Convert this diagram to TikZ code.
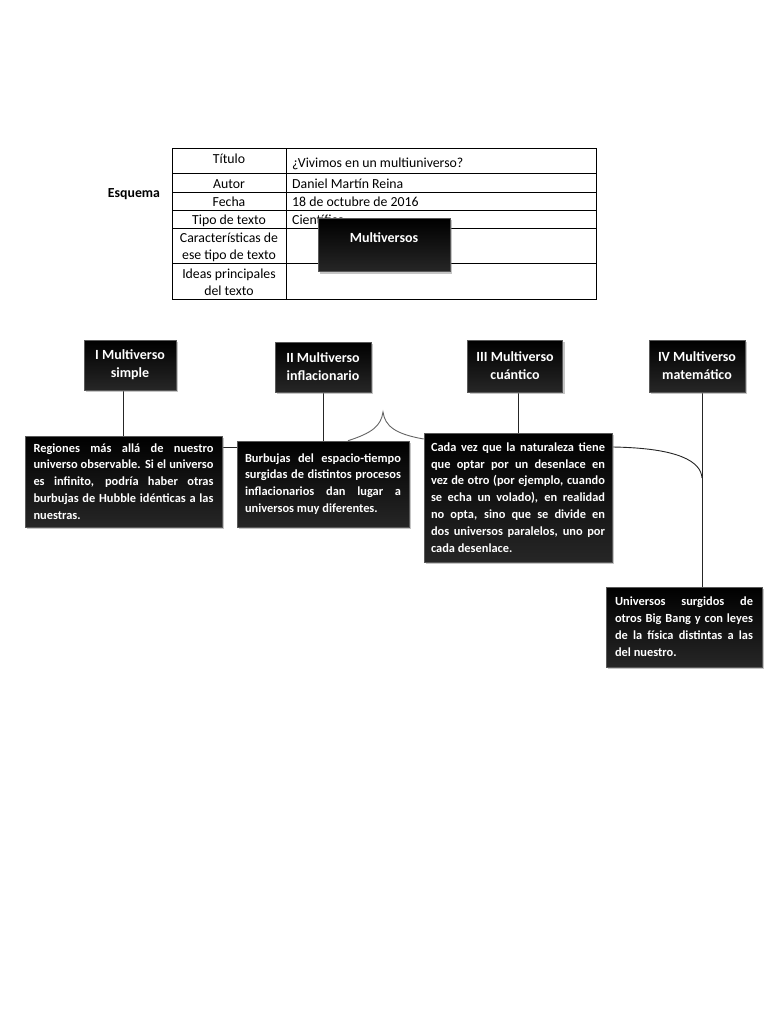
\documentclass[tikz,border=0pt]{standalone}
\usepackage{fontspec}
\setmainfont{Carlito}
\usetikzlibrary{shadows,calc,backgrounds}
\begin{document}
\begin{tikzpicture}[x=1pt,y=-1pt,
  boxbase/.style={text=white, inner sep=0pt, top color=black, bottom color=black!85,
    draw=black!65, line width=0.6pt,
    drop shadow={opacity=0.45, shadow xshift=2pt, shadow yshift=-2pt}},
  hdr/.style={boxbase, font=\bfseries\fontsize{14}{18}\selectfont, align=center,
    minimum width=94pt, minimum height=51pt},
  desc/.style={boxbase, font=\bfseries\fontsize{12.4}{16.9}\selectfont, align=justify},
  cell/.style={font=\fontsize{13.8}{17}\selectfont, inner sep=0pt, anchor=base},
  cellc/.style={font=\fontsize{13.8}{17}\selectfont, inner sep=0pt, align=center},
  tline/.style={draw=black, line width=1pt},
  conn/.style={draw=black!85, line width=0.9pt},
  brace/.style={draw=black!60, line width=0.9pt}
]
\begin{scope}[on background layer]
  \fill[white] (0,0) rectangle (768,1024);
\end{scope}
\useasboundingbox (0,0) rectangle (768,1024);

% table
\draw[tline] (172,149) rectangle (596,299);
\draw[tline] (286,149) -- (286,299);
\foreach \yy in {174,193,211,229,263} \draw[tline] (172,\yy) -- (596,\yy);

\node[font=\bfseries\fontsize{13.8}{17}\selectfont, inner sep=0pt, anchor=base] (esq) at (134,198) {Esquema};
\node[cell] (t1l) at (229,164) {Título};
\node[cell, anchor=base west] (t1r) at (292,168) {¿Vivimos en un multiuniverso?};
\node[cell] (t2l) at (229,189) {Autor};
\node[cell, anchor=base west] (t2r) at (292,189) {Daniel Martín Reina};
\node[cell] (t3l) at (229,207) {Fecha};
\node[cell, anchor=base west] (t3r) at (292,207) {18 de octubre de 2016};
\node[cell] (t4l) at (229,225) {Tipo de texto};
\node[cell, anchor=base west] (t4r) at (292,225) {Científico};
\node[cellc] (t5l) at (229,247) {Características de\\ese tipo de texto};
\node[cellc] (t6l) at (229,282) {Ideas principales\\del texto};

% central box
\node[boxbase, font=\bfseries\fontsize{14}{18}\selectfont, minimum width=132pt, minimum height=53pt,
  text height=10pt, text depth=14pt] (mv) at (384,245) {Multiversos};

% header boxes
\node[hdr, minimum width=92pt, minimum height=50pt] (b1) at (130,365) {I Multiverso\\simple};
\node[hdr, minimum width=96pt, minimum height=50pt] (b2) at (323,367) {II Multiverso\\inflacionario};
\node[hdr, minimum width=95pt, minimum height=52pt] (b3) at (515,366) {III Multiverso\\cuántico};
\node[hdr, minimum width=96pt, minimum height=52pt] (b4) at (697,366) {IV Multiverso\\matemático};

% description boxes
\node[desc, text width=180pt, minimum width=197pt, minimum height=91pt] (d1) at (123.5,481.5)
  {Regiones más allá de nuestro\linebreak universo observable. Si el universo\linebreak es infinito, podría haber otras\linebreak burbujas de Hubble idénticas a las\linebreak nuestras.};
\node[desc, text width=156pt, minimum width=172pt, minimum height=86pt] (d2) at (323,484)
  {Burbujas del espacio-tiempo\linebreak surgidas de distintos procesos\linebreak inflacionarios dan lugar a\linebreak universos muy diferentes.};
\node[desc, text width=174pt, minimum width=188pt, minimum height=129pt] (d3) at (518,497.5)
  {Cada vez que la naturaleza tiene\linebreak que optar por un desenlace en\linebreak vez de otro (por ejemplo, cuando\linebreak se echa un volado), en realidad\linebreak no opta, sino que se divide en\linebreak dos universos paralelos, uno por\linebreak cada desenlace.};
\node[desc, text width=138pt, minimum width=156pt, minimum height=80pt] (d4) at (684,627)
  {Universos surgidos de\linebreak otros Big Bang y con leyes\linebreak de la física distintas a las\linebreak del nuestro.};

\coordinate (j4) at (702,478);
\coordinate (br) at (383,412);

\begin{scope}[on background layer]
  \draw[conn] (d1.north) -- (d1.north |- b1.south);
  \draw[conn] (b2.south) -- (b2.south |- d2.north);
  \draw[conn] (d3.north) -- (d3.north |- b3.south);
  \draw[conn] (b4.south -| j4) -- (d4.north -| j4);
  \draw[conn] (d1.east |- 0,447) -- (d2.west |- 0,447);
  \draw[brace] (d2.north -| 348,0) .. controls (372,433) and (381,426) .. (br)
               .. controls (385,426) and (395,434) .. (d3.west |- 0,439);
  \draw[conn] (d3.east |- 0,447) .. controls (680,448) and (701,462) .. (j4);
\end{scope}
\end{tikzpicture}
\end{document}
